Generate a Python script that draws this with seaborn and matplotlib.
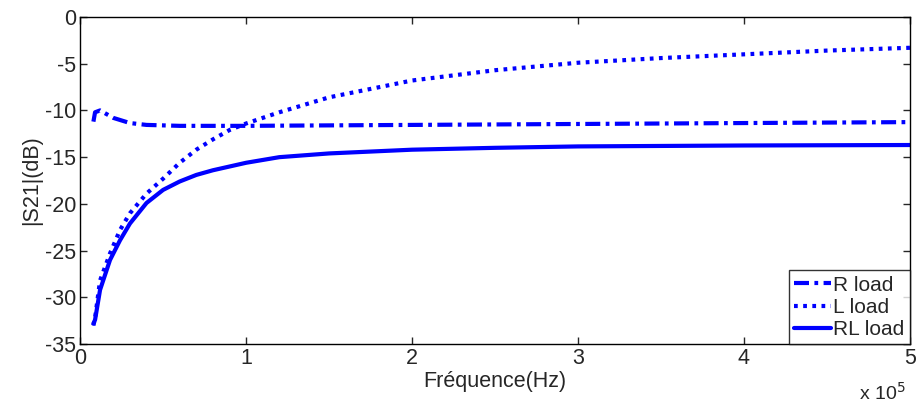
import numpy as np
import pandas as pd
import matplotlib
matplotlib.use("Agg")
import matplotlib.pyplot as plt
import seaborn as sns
from matplotlib.ticker import FuncFormatter

# values (frequency in Hz, |S21| in dB)
freq_r = [8e3, 9e3, 1.2e4, 1.5e4, 2e4, 3e4, 4e4, 6e4, 1e5, 1.5e5, 2e5, 3e5, 4e5, 5e5]
s21_r = [-11.2, -10.2, -10.0, -10.3, -10.8, -11.35, -11.55, -11.65, -11.65, -11.6, -11.55, -11.45, -11.35, -11.25]

freq_l = [8e3, 9e3, 1.2e4, 1.8e4, 2.4e4, 3e4, 4e4, 5e4, 6e4, 7e4, 8e4, 9e4, 1e5, 1.2e5,
          1.5e5, 2e5, 2.5e5, 3e5, 3.5e5, 4e5, 4.5e5, 5e5]
s21_l = [-33.0, -32.2, -28.2, -25.3, -22.8, -21.0, -18.9, -17.3, -15.6, -14.2, -13.1, -12.1, -11.4, -10.2,
         -8.6, -6.8, -5.7, -4.9, -4.4, -4.0, -3.6, -3.3]

freq_rl = [8e3, 9e3, 1.2e4, 1.8e4, 2.4e4, 3e4, 4e4, 5e4, 6e4, 7e4, 8e4, 1e5, 1.2e5,
           1.5e5, 2e5, 2.5e5, 3e5, 4e5, 5e5]
s21_rl = [-32.8, -32.4, -29.2, -26.0, -23.9, -22.1, -19.9, -18.5, -17.6, -16.9, -16.4, -15.6, -15.0,
          -14.6, -14.2, -14.0, -13.85, -13.75, -13.7]

labels = ["R load", "L load", "RL load"]
series = [(freq_r, s21_r, (0, (3.6, 1.3, 0.9, 1.3))),
          (freq_l, s21_l, (0, (0.9, 1.3))),
          (freq_rl, s21_rl, "-")]

sns.set_style("ticks")
plt.rcParams['font.family'] = ['Liberation Sans', 'DejaVu Sans']
plt.rcParams['axes.unicode_minus'] = False

fig = plt.figure(figsize=(9.21, 4.03), dpi=100)
ax = fig.add_axes([0.087, 0.146, 0.901, 0.812])

for f, s, ls in series:
    df = pd.DataFrame({"f": f, "s": s})
    sns.lineplot(data=df, x="f", y="s", ax=ax, color="#0000ff", linewidth=3,
                 linestyle=ls, legend=False)

ax.set_xlim(0, 5e5)
ax.set_ylim(-35, 0)
ax.set_xticks(np.arange(0, 5.01e5, 1e5))
ax.set_yticks(np.arange(-35, 1, 5))
ax.xaxis.set_major_formatter(FuncFormatter(lambda v, p: f"{v / 1e5:g}"))
ax.tick_params(direction="in", labelsize=15.5, length=5, width=1, top=True, right=True, pad=3)
for sp in ax.spines.values():
    sp.set_visible(True)
    sp.set_linewidth(1)
    sp.set_color("black")

ax.set_xlabel("Fréquence(Hz)", fontsize=15.5, labelpad=1)
ax.set_ylabel("|S21|(dB)", fontsize=15.5, labelpad=2)
ax.text(0.995, -0.115, r"x 10$^5$", transform=ax.transAxes, ha="right", va="top", fontsize=14)

leg = ax.legend(handles=ax.get_lines(), labels=labels, loc="lower right", fontsize=15,
                frameon=True, fancybox=False, edgecolor="black", handlelength=1.8,
                handletextpad=0.1, borderpad=0.25, labelspacing=0.15, borderaxespad=0.0)
leg.get_frame().set_linewidth(1)

fig.savefig("out.png", dpi=100)
